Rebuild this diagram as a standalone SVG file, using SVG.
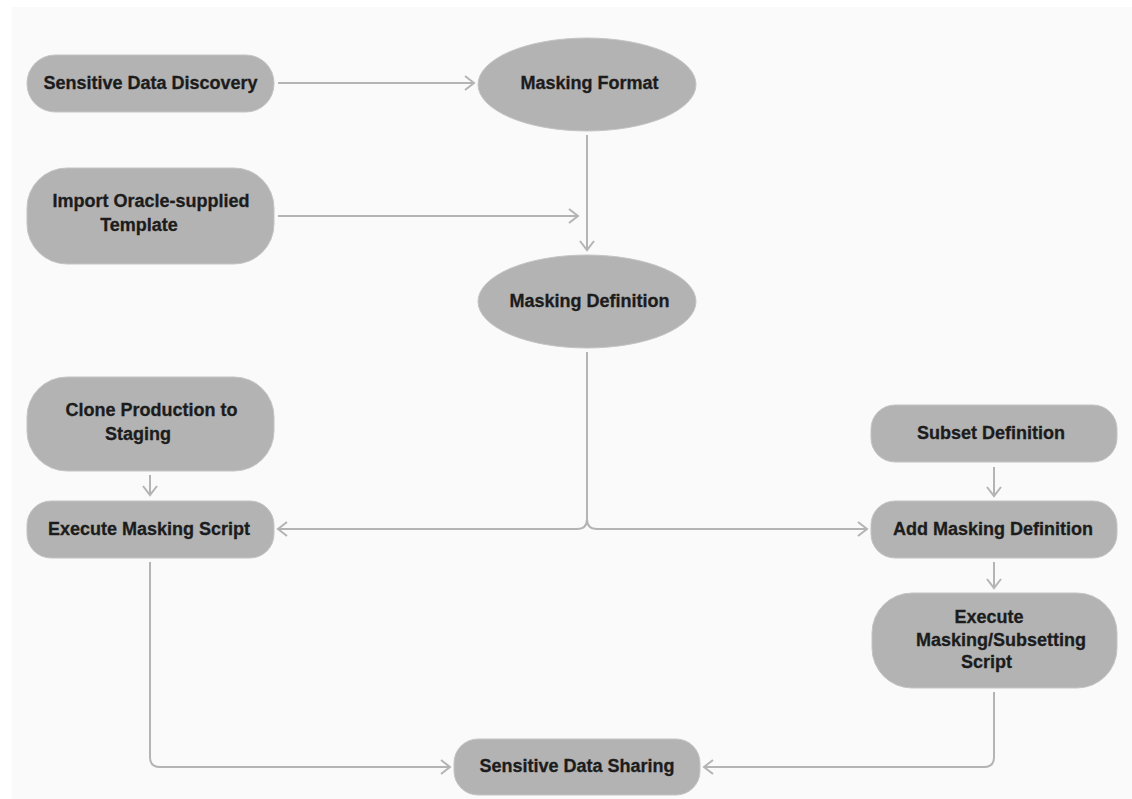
<svg xmlns="http://www.w3.org/2000/svg" width="1132" height="799" viewBox="0 0 1132 799">
<style>
.node{fill:#b3b3b3;stroke:#c4c4c4;stroke-width:1}
.lbl{font-family:"Liberation Sans",Arial,sans-serif;font-weight:bold;font-size:18px;fill:#1c1c1c;stroke:#1c1c1c;stroke-width:0.3;text-anchor:middle}
.edge{fill:none;stroke:#b4b4b4;stroke-width:2}
</style>
<defs>
<marker id="arr" markerUnits="userSpaceOnUse" markerWidth="14" markerHeight="18" refX="11" refY="8" orient="auto">
<path d="M2,1 L11,8 L2,15" fill="none" stroke="#b4b4b4" stroke-width="2"/>
</marker>
</defs>
<rect x="0" y="0" width="1132" height="799" fill="#ffffff"/>
<rect x="12" y="7" width="1120" height="792" fill="#fafafa"/>
<g id="connectors">
<path class="edge" d="M278,83 L474,83" marker-end="url(#arr)"/>
<path class="edge" d="M278,216 L578,216" marker-end="url(#arr)"/>
<path class="edge" d="M587,135 L587,250" marker-end="url(#arr)"/>
<path class="edge" d="M587,352 L587,519 Q587,529 577,529 L278,529" marker-end="url(#arr)"/>
<path class="edge" d="M587,519 Q587,529 597,529 L867,529" marker-end="url(#arr)"/>
<path class="edge" d="M150,475 L150,495" marker-end="url(#arr)"/>
<path class="edge" d="M994,467 L994,496" marker-end="url(#arr)"/>
<path class="edge" d="M994,562 L994,588" marker-end="url(#arr)"/>
<path class="edge" d="M150,562 L150,757 Q150,767 160,767 L450,767" marker-end="url(#arr)"/>
<path class="edge" d="M994,692 L994,757 Q994,767 984,767 L704,767" marker-end="url(#arr)"/>
</g>
<g id="sensitive-data-discovery">
<rect class="node" x="27" y="55" width="247" height="57" rx="28"/>
<text class="lbl" x="150.5" y="89">Sensitive Data Discovery</text>
</g>
<g id="import-template">
<rect class="node" x="27" y="168" width="247" height="96" rx="40"/>
<text class="lbl" x="151" y="207">Import Oracle-supplied</text>
<text class="lbl" x="139" y="231">Template</text>
</g>
<g id="masking-format">
<ellipse class="node" cx="587" cy="84.5" rx="109" ry="46.5"/>
<text class="lbl" x="589.5" y="89">Masking Format</text>
</g>
<g id="masking-definition">
<ellipse class="node" cx="587" cy="301.5" rx="109" ry="46.5"/>
<text class="lbl" x="589.5" y="307">Masking Definition</text>
</g>
<g id="clone-production">
<rect class="node" x="27" y="377" width="247" height="94" rx="40"/>
<text class="lbl" x="151.5" y="416">Clone Production to</text>
<text class="lbl" x="138" y="440">Staging</text>
</g>
<g id="execute-masking-script">
<rect class="node" x="27" y="501" width="247" height="57" rx="24"/>
<text class="lbl" x="149" y="535">Execute Masking Script</text>
</g>
<g id="subset-definition">
<rect class="node" x="871" y="405" width="246" height="57" rx="24"/>
<text class="lbl" x="991" y="439">Subset Definition</text>
</g>
<g id="add-masking-definition">
<rect class="node" x="871" y="501" width="246" height="57" rx="24"/>
<text class="lbl" x="993" y="535">Add Masking Definition</text>
</g>
<g id="execute-masking-subsetting">
<rect class="node" x="872" y="593" width="245" height="95" rx="40"/>
<text class="lbl" x="989" y="623">Execute</text>
<text class="lbl" x="1001" y="646">Masking/Subsetting</text>
<text class="lbl" x="986.5" y="668">Script</text>
</g>
<g id="sensitive-data-sharing">
<rect class="node" x="454" y="739" width="246" height="56" rx="24"/>
<text class="lbl" x="577" y="772">Sensitive Data Sharing</text>
</g>
</svg>
